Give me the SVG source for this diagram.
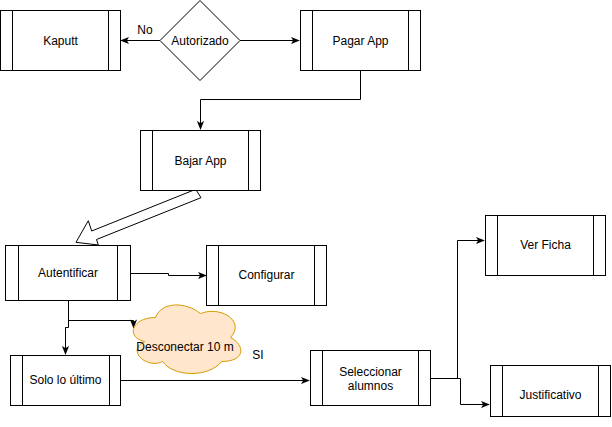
<svg xmlns="http://www.w3.org/2000/svg" width="612" height="427" viewBox="0 0 612 427">
<defs>
<style>
.box{fill:#fff;stroke:#000;stroke-width:1}
.in{stroke:#000;stroke-width:1;fill:none}
.t{font-family:"Liberation Sans",Arial,sans-serif;font-size:12px;fill:#000;text-anchor:middle}
.e{fill:none;stroke:#000;stroke-width:1;marker-end:url(#a)}
</style>
<marker id="a" viewBox="0 0 10 10" refX="9" refY="5" markerWidth="9" markerHeight="9" markerUnits="userSpaceOnUse" orient="auto">
<path d="M0,1 L10,5 L0,9 L2.5,5 Z" fill="#000"/>
</marker>
</defs>
<rect width="612" height="427" fill="#fff"/>
<g id="connectors">
<path class="e" d="M160,40.5 H121"/>
<path class="e" d="M240,40.5 H299"/>
<path class="e" d="M360.5,70 V99.5 H200.5 V129"/>
<polygon points="195.7,189.3 201,197.7 96.5,239.5 98.3,245 76,242.3 88.3,220.7 91.7,231" fill="#fff" stroke="#000" stroke-width="1" stroke-linejoin="miter"/>
<path class="e" d="M130,273.5 H168.5 V275.5 H206"/>
<path class="e" d="M68.5,300 V320.5 H133.5 V327.5"/>
<path class="e" d="M68.5,320 V327.5 H65.5 V354"/>
<path class="e" d="M120,380.5 H309"/>
<path class="e" d="M430,378.5 H457.5 V240.5 H484"/>
<path class="e" d="M430,378.5 H460.5 V404.5 H489"/>
</g>
<g id="kaputt">
<rect class="box" x="0.5" y="10.5" width="120" height="60"/>
<path class="in" d="M12.5,10.5 V70.5 M108.5,10.5 V70.5"/>
<text class="t" x="60.5" y="45">Kaputt</text>
</g>
<g id="autorizado">
<polygon points="200,0.5 240,40.5 200,80.5 160,40.5" fill="#fff" stroke="#000"/>
<text class="t" x="200" y="45">Autorizado</text>
</g>
<text class="t" x="145" y="34">No</text>
<g id="pagar">
<rect class="box" x="300.5" y="10.5" width="120" height="60"/>
<path class="in" d="M312.5,10.5 V70.5 M408.5,10.5 V70.5"/>
<text class="t" x="360.5" y="45">Pagar App</text>
</g>
<g id="bajar">
<rect class="box" x="140.5" y="130.5" width="120" height="60"/>
<path class="in" d="M152.5,130.5 V190.5 M248.5,130.5 V190.5"/>
<text class="t" x="200.5" y="165">Bajar App</text>
</g>
<g id="autentificar">
<rect class="box" x="5.5" y="245.5" width="125" height="55"/>
<path class="in" d="M18.5,245.5 V300.5 M117.5,245.5 V300.5"/>
<text class="t" x="68" y="277">Autentificar</text>
</g>
<g id="configurar">
<rect class="box" x="206.5" y="245.5" width="120" height="60"/>
<path class="in" d="M218.5,245.5 V305.5 M314.5,245.5 V305.5"/>
<text class="t" x="266.5" y="279">Configurar</text>
</g>
<g id="desconectar">
<path d="M155.5,317.5 C131.5,317.5 125.5,337.5 144.7,341.5 C125.5,350.3 147.1,369.5 162.7,361.5 C173.5,377.5 209.5,377.5 221.5,361.5 C245.5,361.5 245.5,345.5 230.5,337.5 C245.5,321.5 221.5,305.5 200.5,313.5 C185.5,301.5 161.5,301.5 155.5,317.5 Z" fill="#ffe6cc" stroke="#d79b00" stroke-width="1"/>
<text class="t" x="185" y="351">Desconectar 10 m</text>
</g>
<text class="t" x="258" y="359">SI</text>
<g id="solo">
<rect class="box" x="10.5" y="355.5" width="110" height="50"/>
<path class="in" d="M22.5,355.5 V405.5 M109.5,355.5 V405.5"/>
<text class="t" x="65.5" y="384">Solo lo último</text>
</g>
<g id="seleccionar">
<rect class="box" x="310.5" y="350.5" width="120" height="55"/>
<path class="in" d="M322.5,350.5 V405.5 M418.5,350.5 V405.5"/>
<text class="t" x="370.5" y="376">Seleccionar</text>
<text class="t" x="370.5" y="390">alumnos</text>
</g>
<g id="verficha">
<rect class="box" x="485.5" y="215.5" width="120" height="60"/>
<path class="in" d="M497.5,215.5 V275.5 M593.5,215.5 V275.5"/>
<text class="t" x="545.5" y="249">Ver Ficha</text>
</g>
<g id="justificativo">
<rect class="box" x="490.5" y="365.5" width="120" height="51"/>
<path class="in" d="M502.5,365.5 V416.5 M598.5,365.5 V416.5"/>
<text class="t" x="550.5" y="399">Justificativo</text>
</g>
</svg>
